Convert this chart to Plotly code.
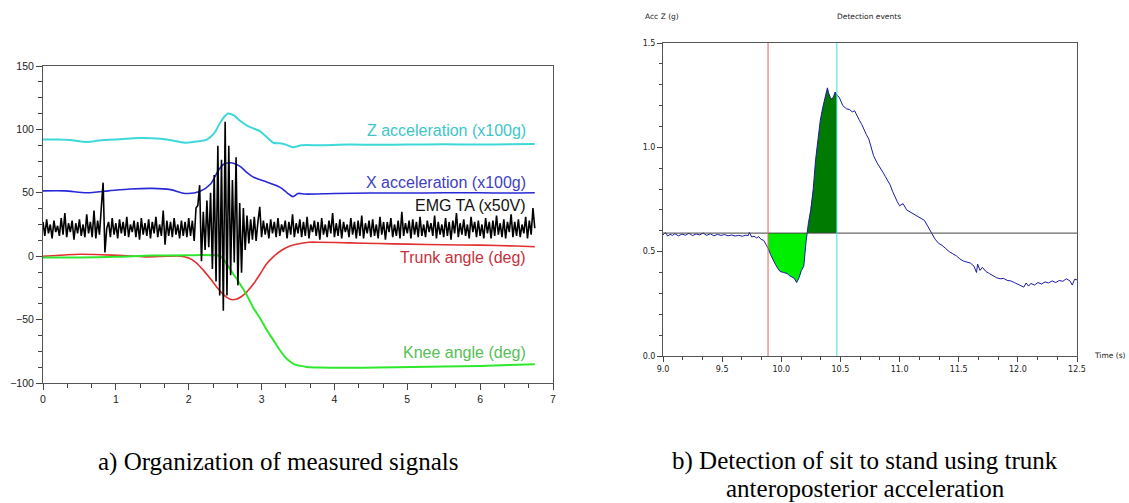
import numpy as np
import plotly.graph_objects as go

# ---------------- Left chart data (a) ----------------
z_t = [0, 0.2, 0.4, 0.6, 0.8, 1.0, 1.2, 1.33, 1.5, 1.7, 1.85, 1.95, 2.1, 2.25, 2.35, 2.45, 2.54, 2.62, 2.7, 2.8,
       2.9, 2.98, 3.07, 3.16, 3.25, 3.33, 3.43, 3.55, 3.8, 4.2, 4.6, 5.0, 5.5, 6.0, 6.4, 6.75]
z_v = [92, 92, 91.5, 90, 91.5, 92, 92.8, 93.3, 93, 92, 90.5, 89.5, 90.5, 92, 97, 107, 112.5, 111, 107, 103,
       100.5, 98.5, 94, 89.5, 89, 88, 86, 87.5, 87.5, 88, 87.8, 88, 88.2, 88, 88.3, 88.5]

x_t = [0, 0.3, 0.6, 0.9, 1.2, 1.5, 1.75, 1.95, 2.15, 2.3, 2.4, 2.48, 2.6, 2.7, 2.8, 2.9, 3.07, 3.25, 3.35, 3.43,
       3.5, 3.6, 4.0, 4.5, 5.0, 5.5, 6.0, 6.4, 6.75]
x_v = [51.5, 51.5, 50, 51.5, 53, 53.5, 52.5, 49.5, 51, 57, 67, 72.5, 73.5, 71, 66, 62, 58.5, 54.5, 50, 47,
       49.5, 49, 49.5, 49.8, 49.8, 50, 50, 49.8, 50]

trunk_t = [0, 0.3, 0.5, 0.8, 1.1, 1.4, 1.7, 1.9, 2.0, 2.1, 2.2, 2.3, 2.38, 2.47, 2.57, 2.65, 2.72, 2.8, 2.9, 2.98,
           3.07, 3.16, 3.27, 3.39, 3.53, 3.65, 3.8, 4.2, 4.6, 5.0, 5.5, 6.0, 6.5, 6.75]
trunk_v = [0, 1, 1.5, 1.2, 0.5, -0.5, 0, 0, -1.5, -5, -11, -18, -24, -30, -34, -34, -32, -28, -21, -14,
           -6, -0.5, 4.5, 8, 10, 11, 11, 10.5, 10, 9.5, 9, 8.7, 8, 7.5]

knee_t = [0, 0.5, 1.0, 1.5, 2.0, 2.3, 2.43, 2.52, 2.6, 2.7, 2.8, 2.88, 2.98, 3.07, 3.16, 3.25, 3.33, 3.39, 3.46,
          3.53, 3.62, 3.8, 4.17, 4.6, 5.08, 5.5, 6.0, 6.4, 6.75]
knee_v = [-1, -1, -0.5, 0.5, 0.8, 0.8, 0.3, -6, -13, -21.5, -31, -40, -49, -58, -66, -74, -80, -83, -85.5,
          -86.5, -87.3, -87.8, -88, -87.8, -87.3, -87, -86.5, -85.8, -85.2]

emg_dt = 0.025
emg_v = [27, 16, 29, 18, 25, 14, 28, 19, 24, 16,
         30, 17, 34, 15, 26, 19, 28, 13, 26, 18,
         29, 16, 25, 15, 33, 18, 27, 15, 36, 14,
         28, 17, 38, 58, 3, 22, 27, 15, 30, 17,
         26, 14, 29, 18, 27, 16, 31, 15, 25, 19,
         28, 15, 27, 13, 30, 17, 26, 16, 29, 14,
         27, 18, 31, 15, 25, 16, 36, 9, 28, 16,
         27, 15, 30, 17, 25, 14, 28, 16, 27, 15,
         30, 16, 28, 12, 38, 40, 56, -4, 35, 5,
         44, 7, 50, -10, 64, -20, 87, -31, 76, -43,
         106, -31, 87, -15, 60, -5, 78, -23, 42, -13,
         38, 5, 32, 10, 29, 13, 31, 12, 27, 39,
         15, 28, 17, 26, 14, 29, 18, 27, 15, 30,
         16, 25, 19, 28, 14, 27, 17, 33, 15, 26,
         18, 29, 15, 27, 16, 31, 14, 25, 19, 28,
         16, 27, 13, 30, 17, 25, 15, 28, 18, 34,
         15, 26, 16, 29, 14, 27, 19, 25, 15, 30,
         17, 27, 14, 28, 16, 32, 14, 26, 18, 28,
         15, 29, 16, 25, 14, 31, 17, 27, 13, 27,
         19, 30, 15, 25, 16, 28, 14, 35, 16, 26,
         18, 28, 14, 29, 17, 27, 15, 31, 16, 25,
         15, 28, 19, 26, 16, 32, 14, 27, 17, 25,
         15, 30, 16, 27, 13, 28, 18, 34, 15, 26,
         17, 29, 16, 25, 14, 31, 19, 27, 15, 28,
         16, 25, 14, 30, 18, 27, 14, 28, 16, 32,
         17, 26, 15, 29, 14, 27, 19, 33, 15, 27,
         16, 29, 15, 25, 18, 31, 14, 28, 17, 38,
         22]
emg_t = np.arange(len(emg_v)) * emg_dt

left_labels = ["Z acceleration (x100g)", "X acceleration (x100g)", "EMG TA (x50V)",
               "Trunk angle (deg)", "Knee angle (deg)"]
left_label_y = [99.1, 58.4, 39.7, -1.2, -75.7]
left_label_colors = ["#3cc6c6", "#4040c0", "#111111", "#c8303c", "#55c055"]

# ---------------- Right chart data (b) ----------------
acc_t = [9.00, 9.02, 9.04, 9.06, 9.08, 9.10, 9.13, 9.16, 9.19, 9.22,
         9.25, 9.28, 9.31, 9.34, 9.37, 9.40, 9.43, 9.46, 9.49, 9.52,
         9.55, 9.58, 9.61, 9.64, 9.67, 9.70, 9.72, 9.73, 9.75, 9.77,
         9.79, 9.81, 9.83, 9.85, 9.87, 9.89, 9.91, 9.93, 9.95, 9.97,
         9.99, 10.02, 10.05, 10.07, 10.09, 10.11, 10.13, 10.15, 10.17, 10.19,
         10.21, 10.23, 10.25, 10.27, 10.29, 10.31, 10.33, 10.35, 10.37, 10.39,
         10.40, 10.42, 10.44, 10.455, 10.47, 10.49, 10.52, 10.55, 10.58, 10.60,
         10.62, 10.64, 10.66, 10.68, 10.70, 10.72, 10.74, 10.76, 10.78, 10.81,
         10.84, 10.86, 10.88, 10.90, 10.92, 10.94, 10.96, 10.98, 11.00, 11.03,
         11.06, 11.09, 11.12, 11.15, 11.18, 11.21, 11.24, 11.27, 11.30, 11.33,
         11.36, 11.39, 11.42, 11.45, 11.48, 11.51, 11.54, 11.57, 11.60, 11.63,
         11.65, 11.66, 11.68, 11.70, 11.73, 11.76, 11.79, 11.82, 11.85, 11.88,
         11.91, 11.94, 11.97, 12.00, 12.03, 12.05, 12.07, 12.09, 12.11, 12.14,
         12.17, 12.20, 12.23, 12.26, 12.29, 12.32, 12.35, 12.38, 12.41, 12.44,
         12.46, 12.48, 12.50]
acc_v = [0.580, 0.592, 0.575, 0.583, 0.578, 0.586, 0.576, 0.584, 0.579, 0.588,
         0.577, 0.585, 0.580, 0.589, 0.578, 0.586, 0.576, 0.583, 0.578, 0.582,
         0.576, 0.580, 0.575, 0.578, 0.574, 0.579, 0.577, 0.592, 0.570, 0.574,
         0.566, 0.572, 0.558, 0.555, 0.535, 0.515, 0.485, 0.460, 0.440, 0.420,
         0.405, 0.400, 0.395, 0.385, 0.380, 0.372, 0.352, 0.375, 0.410, 0.430,
         0.550, 0.640, 0.700, 0.800, 0.940, 1.040, 1.130, 1.190, 1.240, 1.285,
         1.260, 1.230, 1.240, 1.265, 1.250, 1.240, 1.200, 1.185, 1.180, 1.170,
         1.175, 1.150, 1.130, 1.110, 1.080, 1.060, 1.040, 1.000, 0.960, 0.925,
         0.900, 0.880, 0.860, 0.840, 0.820, 0.790, 0.760, 0.740, 0.720, 0.730,
         0.700, 0.690, 0.680, 0.670, 0.660, 0.650, 0.620, 0.590, 0.560, 0.540,
         0.530, 0.515, 0.500, 0.490, 0.480, 0.465, 0.455, 0.450, 0.445, 0.430,
         0.400, 0.440, 0.410, 0.425, 0.405, 0.395, 0.385, 0.375, 0.370, 0.372,
         0.362, 0.360, 0.352, 0.345, 0.335, 0.330, 0.350, 0.335, 0.348, 0.340,
         0.352, 0.345, 0.355, 0.350, 0.360, 0.352, 0.362, 0.358, 0.370, 0.360,
         0.340, 0.368, 0.365]

threshold = 0.589
t_start_event = 9.888   # red line
t_cross_event = 10.218  # curve crosses threshold upward
t_end_event = 10.47     # cyan line

W, H = 1129, 503


def px(xp):
    return xp / W


def py(yp):
    return 1 - yp / H


fig = go.Figure()

# left traces
fig.add_trace(go.Scatter(x=z_t, y=z_v, mode="lines", line=dict(color="#3ed8d8", width=2, shape="spline", smoothing=0.8),
                         xaxis="x", yaxis="y", hoverinfo="skip"))
fig.add_trace(go.Scatter(x=x_t, y=x_v, mode="lines", line=dict(color="#2828d8", width=1.6, shape="spline", smoothing=0.8),
                         xaxis="x", yaxis="y", hoverinfo="skip"))
fig.add_trace(go.Scatter(x=trunk_t, y=trunk_v, mode="lines", line=dict(color="#e03030", width=1.6, shape="spline", smoothing=0.8),
                         xaxis="x", yaxis="y", hoverinfo="skip"))
fig.add_trace(go.Scatter(x=knee_t, y=knee_v, mode="lines", line=dict(color="#2ee82e", width=2, shape="spline", smoothing=0.8),
                         xaxis="x", yaxis="y", hoverinfo="skip"))
fig.add_trace(go.Scatter(x=emg_t, y=emg_v, mode="lines", line=dict(color="#000000", width=1.6),
                         xaxis="x", yaxis="y", hoverinfo="skip"))

# right fills
light_x = [t_start_event] + [t for t in acc_t if t_start_event < t < t_cross_event] + [t_cross_event]
light_y = [threshold] + [v for t, v in zip(acc_t, acc_v) if t_start_event < t < t_cross_event] + [threshold]
dark_x = [t_cross_event] + [t for t in acc_t if t_cross_event < t <= t_end_event] + [t_end_event]
dark_y = [threshold] + [v for t, v in zip(acc_t, acc_v) if t_cross_event < t <= t_end_event] + [threshold]

fig.add_trace(go.Scatter(x=light_x, y=light_y, fill="toself", fillcolor="#00ee00", mode="lines",
                         line=dict(width=0, color="#00ee00"), xaxis="x2", yaxis="y2", hoverinfo="skip"))
fig.add_trace(go.Scatter(x=dark_x, y=dark_y, fill="toself", fillcolor="#007a00", mode="lines",
                         line=dict(width=0, color="#007a00"), xaxis="x2", yaxis="y2", hoverinfo="skip"))
fig.add_trace(go.Scatter(x=acc_t, y=acc_v, mode="lines", line=dict(color="#1a1aa8", width=1),
                         xaxis="x2", yaxis="y2", hoverinfo="skip"))

# event / threshold lines
fig.add_shape(type="line", xref="x2", yref="y2", x0=9.0, x1=12.5, y0=threshold, y1=threshold,
              line=dict(color="#444444", width=1))
fig.add_shape(type="line", xref="x2", yref="y2", x0=t_start_event, x1=t_start_event, y0=0, y1=1.5,
              line=dict(color="#e06060", width=1))
fig.add_shape(type="line", xref="x2", yref="y2", x0=t_end_event, x1=t_end_event, y0=0, y1=1.5,
              line=dict(color="#40dede", width=1))

axis_common = dict(showgrid=False, zeroline=False, showline=True, linecolor="#555555", linewidth=1,
                   mirror=True, ticks="outside", tickcolor="#444444", fixedrange=True, automargin=False)

left_tickfont = dict(family="Liberation Sans, Arial", size=10.5, color="#222222")
right_tickfont = dict(family="DejaVu Sans", size=8, color="#222222")

fig.update_layout(
    template="none",
    width=W, height=H, autosize=False,
    margin=dict(l=0, r=0, t=0, b=0, pad=0),
    paper_bgcolor="white", plot_bgcolor="white",
    showlegend=False,
    hovermode=False,
    xaxis=dict(domain=[px(43), px(553)], range=[0, 7], anchor="y", tick0=0, dtick=1, ticklen=6,
               tickfont=left_tickfont,
               minor=dict(tick0=0, dtick=1 / 3, ticklen=4, ticks="outside", tickcolor="#444444", showgrid=False),
               **axis_common),
    yaxis=dict(domain=[py(383), py(66)], range=[-100, 150], anchor="x", tick0=0, dtick=50, ticklen=6,
               tickfont=left_tickfont,
               minor=dict(tick0=0, dtick=12.5, ticklen=4, ticks="outside", tickcolor="#444444", showgrid=False),
               **axis_common),
    xaxis2=dict(domain=[px(663), px(1077)], range=[9, 12.5], anchor="y2", tick0=9, dtick=0.5, ticklen=5,
                tickformat=".1f", tickfont=right_tickfont,
                minor=dict(tick0=9, dtick=1 / 6, ticklen=3, ticks="outside", tickcolor="#444444", showgrid=False),
                **axis_common),
    yaxis2=dict(domain=[py(356), py(43)], range=[0, 1.5], anchor="x2", tick0=0, dtick=0.5, ticklen=5,
                tickformat=".1f", tickfont=right_tickfont,
                minor=dict(tick0=0, dtick=0.1, ticklen=3, ticks="outside", tickcolor="#444444", showgrid=False),
                **axis_common),
)

annotations = []
for txt, yv, col in zip(left_labels, left_label_y, left_label_colors):
    annotations.append(dict(text=txt, x=6.66, y=yv, xref="x", yref="y", xanchor="right", yanchor="middle",
                            showarrow=False, font=dict(family="Liberation Sans, Arial", size=16, color=col)))

small_font = dict(family="DejaVu Sans", size=7.5, color="#222222")
annotations += [
    dict(text="Acc Z (g)", x=px(643), y=py(17), xref="paper", yref="paper", xanchor="left", yanchor="middle",
         showarrow=False, font=small_font),
    dict(text="Detection events", x=px(835), y=py(17), xref="paper", yref="paper", xanchor="left",
         yanchor="middle", showarrow=False, font=small_font),
    dict(text="Time (s)", x=px(1092), y=py(355), xref="paper", yref="paper", xanchor="left", yanchor="middle",
         showarrow=False, font=small_font),
]

cap_font = dict(family="Liberation Serif, Times New Roman", size=25, color="#000000")
annotations += [
    dict(text="a) Organization of measured signals", x=px(278), y=py(462), xref="paper", yref="paper",
         xanchor="center", yanchor="middle", showarrow=False, font=cap_font),
    dict(text="b) Detection of sit to stand using trunk", x=px(865), y=py(461), xref="paper", yref="paper",
         xanchor="center", yanchor="middle", showarrow=False, font=cap_font),
    dict(text="anteroposterior acceleration", x=px(865), y=py(488), xref="paper", yref="paper",
         xanchor="center", yanchor="middle", showarrow=False, font=cap_font),
]
fig.update_layout(annotations=annotations)

reset_css = ("document.documentElement.style.margin='0';document.documentElement.style.padding='0';"
             "document.documentElement.style.overflow='hidden';document.body.style.margin='0';"
             "document.body.style.padding='0';document.body.style.overflow='hidden';")
fig.write_html("out.html", post_script=reset_css, config={"displayModeBar": False, "staticPlot": True})
